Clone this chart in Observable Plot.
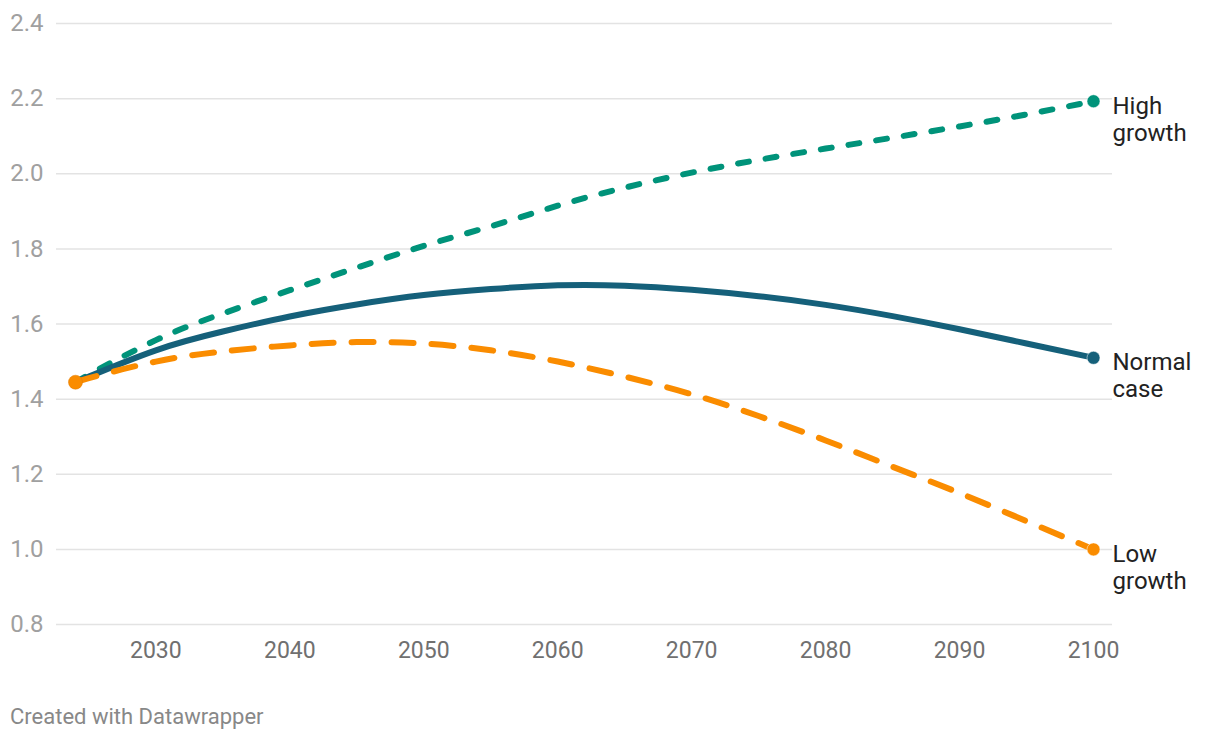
<!DOCTYPE html>
<html>
<head>
<meta charset="utf-8">
<script src="https://cdn.jsdelivr.net/npm/d3@7"></script>
<script src="https://cdn.jsdelivr.net/npm/@observablehq/plot@0.6"></script>
<style>
  html, body { margin: 0; padding: 0; background: #fff; }
  body { width: 1220px; height: 740px; font-family: Roboto, "Noto Sans", sans-serif; }
  #chart svg { display: block; overflow: visible; }
  #footer { position: absolute; left: 10px; top: 704px; font: 22px Roboto, sans-serif; color: #888; }
</style>
</head>
<body>
<div id="chart"></div>
<div id="footer">Created with Datawrapper</div>
<script>
const years = [2024, 2025, 2030, 2035, 2040, 2045, 2050, 2055, 2060, 2065, 2070, 2075, 2080, 2085, 2090, 2095, 2100];
const normalCase = [1.445, 1.46, 1.53, 1.58, 1.62, 1.652, 1.677, 1.693, 1.703, 1.702, 1.691, 1.674, 1.651, 1.621, 1.586, 1.548, 1.51];
const highGrowth = [1.445, 1.465, 1.557, 1.628, 1.69, 1.75, 1.808, 1.86, 1.915, 1.963, 2.003, 2.037, 2.067, 2.096, 2.126, 2.158, 2.193];
const lowGrowth = [1.445, 1.456, 1.50, 1.527, 1.543, 1.552, 1.548, 1.53, 1.50, 1.46, 1.413, 1.355, 1.29, 1.22, 1.15, 1.075, 1.0];
const yTicks = [0.8, 1.0, 1.2, 1.4, 1.6, 1.8, 2.0, 2.2, 2.4];
const xTicks = [2030, 2040, 2050, 2060, 2070, 2080, 2090, 2100];

const seriesNames = ["High growth", "Normal case", "Low growth"];
const seriesLabels = ["High\ngrowth", "Normal\ncase", "Low\ngrowth"];
const seriesValues = [highGrowth, normalCase, lowGrowth];
const seriesColors = ["#00937a", "#15607a", "#fa8c00"];
const seriesDash = ["11,17", null, "22,18"];

const rows = seriesNames.map((name, i) => years.map((yr, j) => ({series: name, year: yr, value: seriesValues[i][j]})));
const ends = seriesNames.map((name, i) => ({series: name, label: seriesLabels[i], year: years[years.length - 1], value: seriesValues[i][years.length - 1], color: seriesColors[i]}));
const start = [{year: years[0], value: lowGrowth[0]}];

const lineMarks = rows.map((data, i) => Plot.line(data, {
  x: "year", y: "value", curve: "natural",
  stroke: seriesColors[i], strokeWidth: 6,
  strokeDasharray: seriesDash[i], strokeLinecap: "round", strokeLinejoin: "round"
}));

const chart = Plot.plot({
  width: 1220,
  height: 680,
  marginLeft: 56,
  marginRight: 108,
  marginTop: 23,
  marginBottom: 56,
  style: {fontFamily: "Roboto, sans-serif", fontSize: "20px", background: "#fff"},
  x: {domain: [2024, 2100], range: [75, 1093]},
  y: {domain: [0.8, 2.4]},
  marks: [
    Plot.gridY(yTicks, {stroke: "#e3e3e3", strokeOpacity: 1, strokeWidth: 1.5}),
    Plot.axisY(yTicks, {tickSize: 0, tickPadding: 13, tickFormat: d3.format(".1f"), fill: "#a0a0a0", fontSize: 24, label: null}),
    Plot.axisX(xTicks, {tickSize: 0, tickPadding: 17, tickFormat: d => String(d), fill: "#707070", fontSize: 23, label: null}),
    ...lineMarks,
    Plot.dot(ends, {x: "year", y: "value", r: 6.5, fill: "color", stroke: "white", strokeWidth: 0.5}),
    Plot.dot(start, {x: "year", y: "value", r: 7, fill: "#fa8c00", stroke: "#e07a00", strokeWidth: 0.5}),
    Plot.text(ends, {x: "year", y: "value", text: "label", textAnchor: "start", lineAnchor: "top", dx: 19, dy: -6.5, fill: "#222", fontSize: 24, lineHeight: 1.125})
  ]
});
document.getElementById("chart").appendChild(chart);
</script>
</body>
</html>
